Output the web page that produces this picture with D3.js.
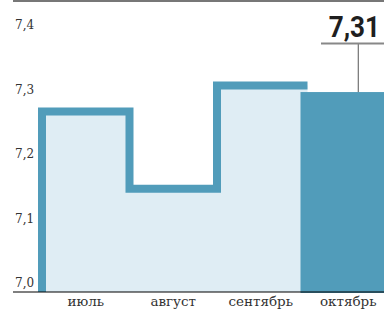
<!DOCTYPE html>
<head>
<meta charset="utf-8">
<style>
body { margin: 0; background: #fff; }
.tick-label { font-family: "DejaVu Serif", serif; font-size: 12px; fill: #333; }
.month-label { font-family: "DejaVu Serif", serif; font-size: 13.5px; fill: #333; }
.callout { font-family: Roboto, sans-serif; font-weight: bold; font-size: 29px; fill: #1f1f1f; }
</style>
</head>
<body>
<div class="chart"></div>
<script src="https://d3js.org/d3.v7.min.js"></script>
<script>
const months = ["июль", "август", "сентябрь", "октябрь"];
const values = [7.28, 7.16, 7.32, 7.31];
const tickValues = [7.0, 7.1, 7.2, 7.3, 7.4];
const tickLabels = ["7,0", "7,1", "7,2", "7,3", "7,4"];
const calloutLabel = "7,31";

const width = 384, height = 313;
const blue = "#519cba", pale = "#dfedf4";

const svg = d3.select(".chart").append("svg")
    .attr("width", width)
    .attr("height", height);

const x = d3.scaleBand().domain(months).range([42, 392]).padding(0);
const y = d3.scaleLinear().domain([7.0, 7.4]).range([292, 34]);

// top rule
svg.append("line")
    .attr("x1", 13).attr("x2", width)
    .attr("y1", 1).attr("y2", 1)
    .attr("stroke", "#777").attr("stroke-width", 2);

// y labels sit just above their value
svg.selectAll(".tick-label")
    .data(tickValues)
    .enter().append("text")
        .attr("class", "tick-label")
        .attr("x", 15)
        .attr("y", d => y(d) - 5)
        .text((d, i) => tickLabels[i]);

// past months: pale area with a thick step outline
const past = months.slice(0, 3).map((m, i) => ({ x: x(m), v: values[i] }));
const stepPts = past.concat([{ x: x(months[3]) + 3, v: values[2] }]);

svg.append("path")
    .datum(stepPts)
    .attr("fill", pale)
    .attr("d", d3.area()
        .curve(d3.curveStepAfter)
        .x(d => d.x)
        .y0(y(7.0))
        .y1(d => y(d.v)));

// current month: solid bar
svg.append("rect")
    .attr("x", x(months[3]) - 4)
    .attr("y", y(values[3]))
    .attr("width", x.bandwidth() + 4)
    .attr("height", y(7.0) - y(values[3]) + 1)
    .attr("fill", blue);

svg.append("path")
    .datum([{ x: past[0].x, v: 7.0 }].concat(stepPts))
    .attr("fill", "none")
    .attr("stroke", blue)
    .attr("stroke-width", 8)
    .attr("stroke-linejoin", "miter")
    .attr("d", d3.line()
        .curve(d3.curveStepAfter)
        .x(d => d.x)
        .y(d => y(d.v)));

// baseline
svg.append("line")
    .attr("x1", 13).attr("x2", width)
    .attr("y1", y(7.0)).attr("y2", y(7.0))
    .attr("stroke", "#000").attr("stroke-opacity", 0.5).attr("stroke-width", 2);

// month labels
svg.selectAll(".month-label")
    .data(months)
    .enter().append("text")
        .attr("class", "month-label")
        .attr("x", d => x(d) + x.bandwidth() / 2)
        .attr("y", 306)
        .attr("text-anchor", "middle")
        .text(d => d);

// callout for the last value
const cx = x(months[3]) + x.bandwidth() / 2 + 10;
svg.append("line")
    .attr("x1", cx).attr("x2", cx)
    .attr("y1", 44).attr("y2", y(values[3]))
    .attr("stroke", "#555").attr("stroke-width", 1);
svg.append("line")
    .attr("x1", 321).attr("x2", width)
    .attr("y1", 43.5).attr("y2", 43.5)
    .attr("stroke", "#888").attr("stroke-width", 2);
svg.append("g")
    .attr("transform", "translate(380,37) scale(0.9,1)")
  .append("text")
    .attr("class", "callout")
    .attr("text-anchor", "end")
    .text(calloutLabel);
</script>
</body>
